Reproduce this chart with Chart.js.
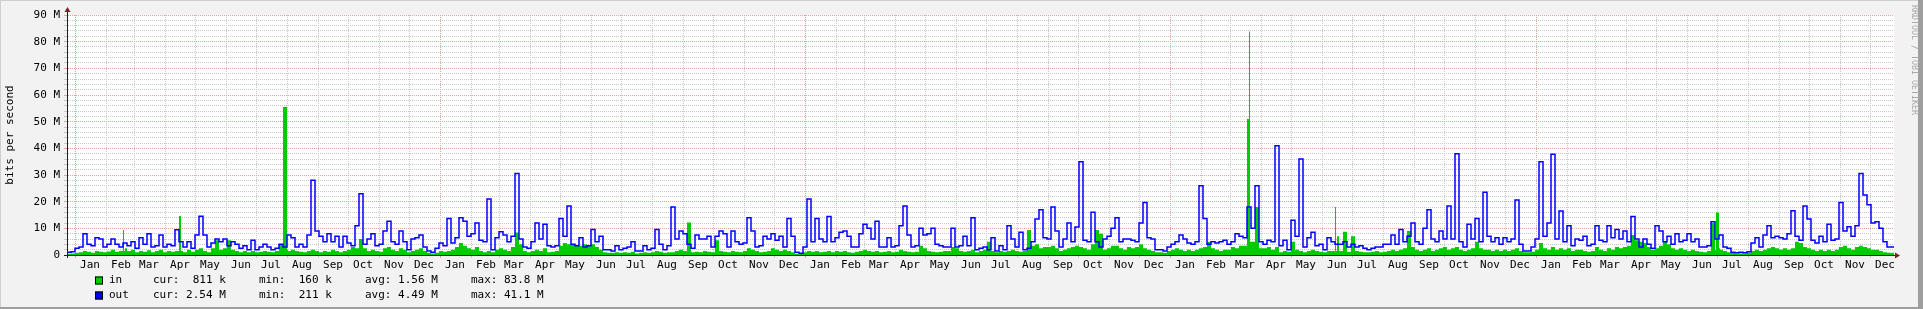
<!DOCTYPE html>
<html><head><meta charset="utf-8">
<script src="https://cdn.jsdelivr.net/npm/chart.js@4/dist/chart.umd.min.js"></script>
<style>
html,body{margin:0;padding:0;background:#f2f2f2;overflow:hidden}
canvas{display:block}
</style></head><body>
<canvas id="c" width="1923" height="309"></canvas>
<script>
// ---- data (values in M bits/s, one value per 4-day bucket) ----
const startDate = Date.UTC(2008, 11, 24);
const bucketDays = 4;
const totalDays = 1827;
const monthLabels = ['Jan','Feb','Mar','Apr','May','Jun','Jul','Aug','Sep','Oct','Nov','Dec'];
const yTickLabels = ['0','10 M','20 M','30 M','40 M','50 M','60 M','70 M','80 M','90 M'];
const seriesNames = ['in','out'];
const legendCur = ['811 k','2.54 M'];
const legendMin = ['160 k','211 k'];
const legendAvg = ['1.56 M','4.49 M'];
const legendMax = ['83.8 M','41.1 M'];
const watermark = 'RRDTOOL / TOBI OETIKER';
const yTitle = 'bits per second';

// single-day peaks of "in" (day index from start, value in M)
const inSpikeDays   = [57, 114, 220, 624, 1182, 1183, 1269, 1648, 1652];
const inSpikeValues = [9.4, 14.6, 55.5, 12.2, 51, 83.8, 18, 12, 15.9];

const inValues = [
0.5,0.5,0.6,0.8,1.0,1.5,1.2,0.8,1.5,1.2,
1.0,1.3,2.0,1.2,1.5,2.5,1.5,2.0,1.0,1.5,
1.2,1.8,1.0,1.5,2.0,1.0,1.5,1.2,1.5,1.5,
1.0,2.0,1.2,2.0,2.5,1.5,1.0,2.5,5.5,2.0,
2.5,5.5,2.0,1.5,1.0,1.5,1.0,1.5,1.0,1.2,
1.5,1.2,1.0,1.5,4.0,2.0,1.5,2.0,1.5,1.2,
1.0,1.5,2.0,1.5,1.0,1.5,1.2,2.0,1.5,1.0,
1.5,2.0,3.0,2.5,6.0,2.5,
1.5,2.0,1.5,1.2,2.5,3.0,2.0,1.5,2.5,2.0,
1.0,1.5,2.0,2.5,1.5,0.8,0.6,0.8,1.5,1.2,
1.5,2.0,3.0,4.5,3.5,2.5,2.0,3.0,1.5,1.0,
1.5,1.0,2.0,2.5,2.0,1.5,3.0,8.4,4.0,1.5,
1.0,1.5,2.0,1.5,2.5,1.0,1.2,1.5,3.5,4.5,
4.0,4.0,3.5,3.5,4.0,3.5,4.0,3.0,2.0,1.0,
0.8,0.8,1.0,0.8,1.0,0.8,1.2,0.6,0.8,1.0,
0.8,1.0,1.5,1.2,0.8,1.0,
1.0,1.5,2.0,1.5,1.2,1.0,1.2,1.0,1.5,1.2,
1.0,5.5,1.5,1.2,1.0,1.5,1.2,1.0,1.5,2.5,
2.0,1.5,1.0,1.2,1.5,2.5,2.0,1.5,2.0,1.5,
1.0,0.5,0.5,1.0,1.5,1.2,1.5,1.0,1.2,1.5,
1.0,1.5,1.2,1.5,1.0,0.8,1.2,1.5,2.0,1.5,
1.2,1.5,1.0,1.2,1.5,1.0,1.2,2.0,1.5,1.2,
1.0,1.2,3.5,2.5,1.5,1.2,1.0,1.2,1.5,1.5,
3.0,2.5,1.5,1.2,1.5,2.0,
1.0,1.5,2.0,5.0,1.5,1.0,1.5,1.2,1.5,2.0,
1.5,1.2,1.5,9.4,3.5,4.0,2.5,3.0,3.0,3.5,
2.5,1.5,2.0,2.5,3.0,3.5,3.0,2.5,2.0,4.0,
9.4,8.0,2.0,2.5,3.5,3.5,2.5,2.0,3.0,2.5,
3.0,4.0,2.5,2.0,1.5,1.0,1.0,0.8,1.5,2.0,
2.5,2.0,1.5,2.0,1.5,2.0,2.5,3.0,5.0,2.5,
2.0,1.5,2.0,2.0,3.0,2.5,3.5,3.5,5.0,5.0,
18.0,2.5,2.5,3.0,2.0,3.0,
1.0,1.5,1.2,5.0,2.0,1.5,1.0,1.5,2.0,1.5,
1.2,1.0,1.5,1.5,7.0,1.5,8.7,1.2,7.0,1.5,
1.2,1.0,1.0,1.2,1.5,1.0,1.2,1.5,2.0,1.5,
2.0,2.5,9.0,3.0,2.0,1.5,2.0,2.5,1.5,2.0,
2.5,3.0,2.0,2.5,3.0,2.0,1.5,2.0,2.5,5.0,
2.5,2.0,2.0,1.5,2.0,1.5,2.0,1.5,2.0,2.5,
1.5,1.0,1.0,1.2,2.0,4.5,2.5,2.0,3.0,2.0,
2.5,2.0,2.5,1.5,2.0,2.0,
1.5,1.2,1.5,3.0,2.0,1.5,2.5,2.0,3.0,2.5,
3.0,3.5,7.5,5.5,5.0,4.5,3.0,2.0,2.5,3.5,
5.0,4.0,2.5,2.0,2.5,2.0,1.5,2.0,1.5,1.2,
1.0,1.5,2.0,2.5,2.0,1.5,1.0,0.8,0.6,0.6,
0.6,0.8,1.5,2.0,1.5,2.0,2.5,3.0,2.5,2.0,
2.5,2.0,2.5,5.0,4.5,3.0,2.5,2.0,1.5,2.0,
1.5,2.0,1.5,2.0,3.0,3.5,2.5,2.0,3.0,3.5,
3.0,2.5,2.0,2.0,1.5,1.0,0.8
];

const outValues = [
1.5,1,1.2,2.5,3,8,4,3.5,6.5,6,
3,4,6,4,3,4.5,3.5,5,2.5,6.5,
4,8,3,3.5,7.5,3,4,3.5,9.5,5,
3,5,2.5,7.5,14.5,7.5,3,4.5,6,5,
6,3.5,5,4,2.5,3.5,2,5.5,2,3,
4,3,2,2.5,4,3,7.5,6.5,3,4,
3,7.5,28,9,7,5,8,5,7,3,
7,4.5,3.5,11,23,4,
6,8,3.5,4,9,12.7,5,4,9,5,
2,6,6.5,7.5,3,1.5,1,2.5,4.5,3.5,
13.7,4.5,6.5,14,12.7,7,8,12,5.5,5,
21,2,6.5,8.7,7.5,5,7,30.6,6,3,
2.5,5,12,6,11.5,3.5,3,3.5,13.7,7,
18.4,4,3.5,6.5,3,3.5,9.6,5,7,2,
2,1.5,3.5,2,2.5,3,5,1.5,1.5,3.5,
2,2.5,9.6,4,2,3.5,
18,6,9,8,4,2.5,7.5,6,6,7,
3,7,9,8,3,9,5,4,4.5,14,
9,3,3.5,7,6,8,5.5,7,3,13.7,
7,1,0.7,3,21,5,13.7,6,5,14.4,
5,6.5,8.5,9,7,3,3,8,11.5,10,
6,12.7,3,3,6.5,3,3.5,11,18.4,7.5,
3,3.5,10,7.5,8,10,4,3.5,3,3,
10,3,3.5,7,3.5,14,
2,2.5,3,2,6.5,1.5,3.5,2,11,6,
3,8.5,2,2.5,5,13.5,17,6.5,6,18,
9,3,6,12,5,10.5,35,5.5,5,16,
5,3,6,7,10,14,5,6,6,5.5,
5,12,19.7,6.5,6,2,2,1.5,3,4,
5,7.5,6,4.5,4,5,26,13.7,4,5,
4.5,5,5.5,4,5,8,7,6.5,18,10,
26,5,4,5.5,5,41,
3.5,5.5,2,13,7,36,3,6.5,8.5,3.5,
4,2,6.5,5,4,4,5,3,4,3,
3.5,2.5,2,2.5,3,3,4,4,7.5,4,
9.6,5,7,12,5,4,10,17,6,5,
9,6,18.4,6,38,5,3,11.5,6,13.7,
5,23.5,7,5,6.5,4,6.5,5,6,20.6,
4,1.5,1.5,3,6,35,7,12,37.8,6,
16.5,5,11,3.5,6,5.5,
7,3.5,4,11,5.5,5,11,6.5,9.6,6,
9,5,14.4,6,3,6,4,2.5,11,9,
5,7,4,8,5,5.5,8,5,6,3,
3,3.5,12.5,6,7.5,3,2.5,1,0.8,1,
0.8,1.2,4.5,6.5,3,7.5,11,6.5,7,6.5,
6,8,16.6,7,5.5,18.4,13.5,5.5,4.5,7,
5,11.5,5.5,6,19.7,9,10.6,7,11,30.6,
22.5,18.8,12,12.5,10,5,3
];

// ---- helpers ----
const MEGA = 1e6;
function toPoints(values, spikeDays, spikeValues) {
  const map = new Map();
  values.forEach((v, i) => map.set(i * bucketDays, v));
  const spikes = new Map();
  (spikeDays || []).forEach((d, i) => spikes.set(d, spikeValues[i]));
  spikes.forEach((v, d) => {
    const base = values[Math.floor(d / bucketDays)];
    map.set(d, v);
    if (!spikes.has(d + 1) && !map.has(d + 1)) map.set(d + 1, base);
  });
  const pts = [...map.entries()].sort((a, b) => a[0] - b[0]).map(([x, v]) => ({x, y: v * MEGA}));
  pts.push({x: totalDays, y: values[values.length - 1] * MEGA});
  return pts;
}
function dayToDate(d) { return new Date(startDate + d * 86400000); }
function monthBoundaryDays() {
  const out = [];
  const s = new Date(startDate);
  let y = s.getUTCFullYear(), m = s.getUTCMonth() + 1;
  while (true) {
    if (m > 11) { m = 0; y++; }
    const d = Math.round((Date.UTC(y, m, 1) - startDate) / 86400000);
    if (d >= totalDays) break;
    out.push(d);
    m++;
  }
  return out;
}
const isJan1 = d => { const t = dayToDate(d); return t.getUTCMonth() === 0 && t.getUTCDate() === 1; };

const FONT = '"DejaVu Sans Mono", monospace';
const MINOR = '#c8c8c8';
const MAJOR = '#eba0a0';
const COL_IN = '#00cc00';
const COL_OUT = '#0000ff';

const decor = {
  id: 'decor',
  beforeDraw(chart) {
    const ctx = chart.ctx;
    ctx.save();
    ctx.fillStyle = '#f2f2f2';
    ctx.fillRect(0, 0, chart.width, chart.height);
    const a = chart.chartArea;
    ctx.fillStyle = '#ffffff';
    ctx.fillRect(a.left, a.top, a.right - a.left, a.bottom - a.top);
    ctx.fillStyle = '#cfcfcf';
    ctx.fillRect(0, 0, chart.width, 1);
    ctx.fillRect(0, 0, 1, chart.height);
    ctx.fillStyle = '#9e9e9e';
    ctx.fillRect(1918, 0, 5, chart.height);
    ctx.fillRect(0, 307, chart.width, 2);
    ctx.restore();
  },
  afterDraw(chart) {
    const ctx = chart.ctx;
    const a = chart.chartArea;
    ctx.save();
    ctx.strokeStyle = '#1f1f1f';
    ctx.lineWidth = 1;
    ctx.beginPath();
    ctx.moveTo(a.left + 0.5, a.top - 4); ctx.lineTo(a.left + 0.5, a.bottom + 3);
    ctx.moveTo(a.left - 3, a.bottom + 0.5); ctx.lineTo(a.right + 3, a.bottom + 0.5);
    ctx.stroke();
    ctx.fillStyle = '#801f1f';
    ctx.beginPath();
    ctx.moveTo(a.left + 0.5, a.top - 8); ctx.lineTo(a.left - 2.5, a.top - 3); ctx.lineTo(a.left + 3.5, a.top - 3); ctx.closePath();
    ctx.fill();
    ctx.beginPath();
    ctx.moveTo(a.right + 6, a.bottom + 0.5); ctx.lineTo(a.right + 1, a.bottom - 2.5); ctx.lineTo(a.right + 1, a.bottom + 3.5); ctx.closePath();
    ctx.fill();
    ctx.font = '11px ' + FONT;
    ctx.textBaseline = 'middle';
    const rows = [280.5, 295.5];
    const cols = [COL_IN, COL_OUT];
    rows.forEach((y, i) => {
      ctx.fillStyle = cols[i];
      ctx.fillRect(95, y - 4, 8, 8);
      ctx.strokeStyle = '#000';
      ctx.strokeRect(95.5, y - 3.5, 7, 7);
      ctx.fillStyle = '#000';
      ctx.fillText(seriesNames[i], 109, y);
      const pad = s => s.padStart(6, ' ');
      const txt = 'cur: ' + pad(legendCur[i]) + '     min: ' + pad(legendMin[i]) +
                  '     avg: ' + pad(legendAvg[i]) + '     max: ' + pad(legendMax[i]);
      ctx.fillText(txt, 153, y);
    });
    ctx.translate(1914, 60);
    ctx.rotate(Math.PI / 2);
    ctx.font = '8.3px ' + FONT;
    ctx.fillStyle = '#a8a8a8';
    ctx.textAlign = 'center';
    ctx.fillText(watermark, 0, 0);
    ctx.restore();
  }
};

new Chart(document.getElementById('c'), {
  type: 'line',
  data: {
    datasets: [
      {label: seriesNames[1], data: toPoints(outValues), borderColor: COL_OUT, borderWidth: 1.5,
       pointRadius: 0, fill: false, stepped: 'after', order: 0},
      {label: seriesNames[0], data: toPoints(inValues, inSpikeDays, inSpikeValues), borderColor: COL_IN, borderWidth: 0,
       backgroundColor: COL_IN, pointRadius: 0, fill: 'origin', stepped: 'after', order: 1}
    ]
  },
  options: {
    responsive: false,
    animation: false,
    devicePixelRatio: 1,
    layout: {padding: {left: 0, top: 15, right: 29, bottom: 34}},
    plugins: {legend: {display: false}, tooltip: {enabled: false}},
    scales: {
      x: {
        type: 'linear', min: 0, max: totalDays,
        afterBuildTicks: s => { s.ticks = monthBoundaryDays().map(v => ({value: v})); },
        afterFit: s => { s.height = 20; },
        ticks: {
          autoSkip: false, maxRotation: 0, minRotation: 0, labelOffset: 15, padding: 1,
          font: {family: FONT, size: 11}, color: '#000',
          callback: v => monthLabels[dayToDate(v).getUTCMonth()]
        },
        grid: {
          color: c => (c.tick && isJan1(c.tick.value)) ? MAJOR : MINOR,
          tickColor: c => (c.tick && isJan1(c.tick.value)) ? MAJOR : MINOR,
          tickLength: 3, lineWidth: 1
        },
        border: {display: true, color: '#1f1f1f', dash: [1, 1]}
      },
      y: {
        type: 'linear', min: 0, max: 90 * MEGA,
        afterBuildTicks: s => { const t = []; for (let v = 0; v <= 90; v += 2) t.push({value: v * MEGA}); s.ticks = t; },
        afterFit: s => { s.width = 67; },
        ticks: {
          autoSkip: false, padding: 4,
          font: {family: FONT, size: 11}, color: '#000',
          callback: v => { const m = Math.round(v / MEGA); return m % 10 === 0 ? yTickLabels[m / 10] : ''; }
        },
        grid: {
          color: c => (c.tick && Math.round(c.tick.value / MEGA) % 10 === 0) ? MAJOR : MINOR,
          tickColor: c => (c.tick && Math.round(c.tick.value / MEGA) % 10 === 0) ? MAJOR : MINOR,
          tickLength: 3, lineWidth: 1
        },
        border: {display: true, color: '#1f1f1f', dash: [1, 1]},
        title: {display: true, text: yTitle, font: {family: FONT, size: 11}, color: '#000', padding: {top: 4, bottom: 0}}
      }
    }
  },
  plugins: [decor]
});
</script>
</body></html>
